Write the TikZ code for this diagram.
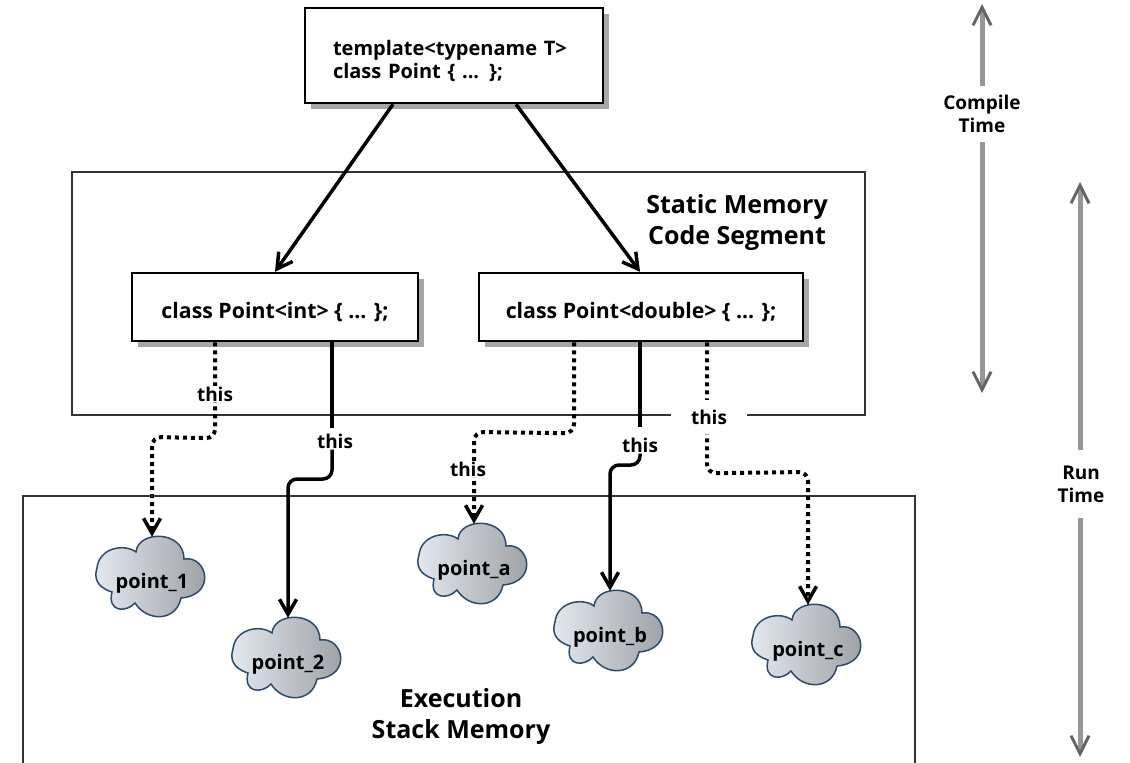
\documentclass[tikz,border=0pt]{standalone}
\usepackage{fontspec}
\setmainfont{Open Sans}
\usepackage{tikz}
\usetikzlibrary{arrows.meta}
\usetikzlibrary{shadows}
\definecolor{cloudline}{RGB}{45,75,105}
\definecolor{cloudleft}{RGB}{228,233,240}
\definecolor{cloudmid}{RGB}{205,207,210}
\definecolor{cloudright}{RGB}{152,155,160}
\definecolor{timegray}{RGB}{150,150,150}
\definecolor{timetip}{RGB}{100,100,100}
\tikzset{
    txt/.style = {font=\fontsize{20}{23}\selectfont\bfseries, align=center, inner sep=0pt},
    bigtxt/.style = {txt, font=\fontsize{25}{31}\selectfont\bfseries},
    membox/.style = {rectangle, draw=black!80, line width=2pt, inner sep=0pt, anchor=north west},
    codebox/.style = {txt, rectangle, draw=black, line width=2.5pt, fill=white, drop shadow={shadow xshift=6pt, shadow yshift=-6pt, fill=black!35, opacity=1}},
    classbox/.style = {codebox, font=\fontsize{21.3}{24}\selectfont\bfseries, minimum height=68pt, text height=26pt, text depth=4pt},
    blob/.style = {draw=cloudline, line width=1.5pt, left color=cloudleft, middle color=cloudmid, right color=cloudright},
    objcloud/.style = {txt, rectangle, minimum width=111pt, minimum height=80pt, text height=26pt, text depth=4pt},
    thislabel/.style = {txt, font=\fontsize{19}{22}\selectfont\bfseries, fill=white, inner xsep=2pt, inner ysep=1pt},
    timelabel/.style = {txt, font=\fontsize{19}{23}\selectfont\bfseries, fill=white, inner xsep=4pt},
    use/.style = {-{Straight Barb[length=15pt,width=17pt,line width=3.5pt]}, line width=3.5pt, black},
    ref/.style = {use, rounded corners=9pt},
    refdot/.style = {ref, line width=4pt, dash pattern=on 4pt off 4pt},
    timearrow/.style = {{Straight Barb[length=18pt,width=18pt,line width=3pt,color=timetip]}-{Straight Barb[length=18pt,width=18pt,line width=3pt,color=timetip]}, line width=5pt, timegray},
    pics/objblob/.style = {code = {
        \path [blob] (-55,-9) .. controls (-53,-29) and (-28,-34) .. (-16,-25)
            .. controls (-14,-47) and (32,-47) .. (32,-18)
            .. controls (55,-22) and (65,18) .. (29,21)
            .. controls (24,45) and (-5,45) .. (-17,26)
            .. controls (-26,36) and (-45,35) .. (-40,15)
            .. controls (-56,10) and (-58,0) .. (-55,-9) -- cycle;
    }}
}
\begin{document}
\begin{tikzpicture}[x=1pt,y=-1pt]
    \clip (0,0) rectangle (1130,763);
    \fill[white] (0,0) rectangle (1130,763);

    \node [membox, minimum width=793pt, minimum height=243pt] (static) at (71,171) {};
    \node [membox, minimum width=892pt, minimum height=300pt] (stack) at (22,495) {};
    \node [bigtxt] (staticlabel) at (737,223) {Static Memory\\Code Segment};
    \node [bigtxt] (stacklabel) at (461,716) {Execution\\Stack Memory};

    \node [codebox, minimum width=298pt, minimum height=95pt, text width=242pt, inner xsep=28pt, align=left] (template) at (454,55.5) {\rule{0pt}{26pt}template<typename T>\\class Point \{ ... \};};
    \node [classbox, minimum width=286pt] (intclass) at (275,307) {class Point<int> \{ ... \};};
    \node [classbox, minimum width=324pt] (dblclass) at (641,307) {class Point<double> \{ ... \};};

    \pic at (152,577) {objblob};
    \node [objcloud] (point1) at (152,577) {point\_1};
    \pic at (288,658) {objblob};
    \node [objcloud] (point2) at (288,658) {point\_2};
    \pic at (474,564) {objblob};
    \node [objcloud] (pointa) at (474,564) {point\_a};
    \pic at (610,631) {objblob};
    \node [objcloud] (pointb) at (610,631) {point\_b};
    \pic at (808,645) {objblob};
    \node [objcloud] (pointc) at (808,645) {point\_c};

    \draw [use] ([xshift=-61pt]template.south) -- (intclass.north);
    \draw [use] ([xshift=62pt]template.south) -- ([xshift=-1pt]dblclass.north);

    % dotted and solid this pointers
    \draw [refdot] ([xshift=-60pt]intclass.south) -- ++(0,96) -- (point1.north |- 0,437) -- (point1.north);
    \node [thislabel] (thisone) at (215,394) {this};
    \node [thislabel] (thistwo) at (335,441) {this};
    \draw [line width=3.5pt] ([xshift=57pt]intclass.south) -- ++(0,86);
    \draw [ref] ([xshift=-3pt]thistwo.south) -- (332,479) -- (point2.north |- 0,479) -- (point2.north);
    \draw [refdot] ([xshift=-67pt]dblclass.south) -- ++(0,91) -- (pointa.north |- 0,432) -- (pointa.north);
    \node [thislabel] (thisa) at (468,469) {this};
    \node [thislabel] (thisb) at (640,445) {this};
    \draw [line width=3.5pt] ([xshift=-1pt]dblclass.south) -- ++(0,85);
    \draw [ref] (thisb.south) -- (640,465) -- (pointb.north |- 0,465) -- (pointb.north);
    \draw [refdot] ([xshift=66pt]dblclass.south) -- ++(0,131) -- (pointc.north |- 0,472) -- (pointc.north);
    \node [thislabel, inner xsep=20pt, inner ysep=10pt] (thisc) at (709,417) {this};

    \coordinate (compiletop) at (982,4);
    \coordinate (compilebot) at (982,393);
    \coordinate (runtop) at (1080,182);
    \coordinate (runbot) at (1080,757);
    \draw [timearrow] (compilebot) -- (compiletop);
    \draw [timearrow] (runbot) -- (runtop);
    \node [timelabel, inner ysep=9pt] (compile) at (982,114) {Compile\\Time};
    \node [timelabel, inner ysep=16pt] (run) at (1081,484) {Run\\Time};
\end{tikzpicture}
\end{document}
